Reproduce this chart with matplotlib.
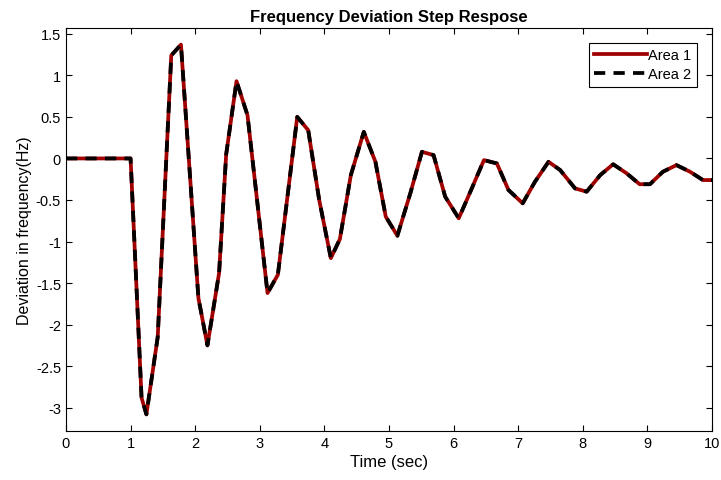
import matplotlib.pyplot as plt
from matplotlib.ticker import FuncFormatter

plt.rcParams['font.family'] = ['Liberation Sans', 'DejaVu Sans']

# time samples (sec) and frequency deviation (Hz)
t = [0, 0.25, 0.5, 0.75, 1.0, 1.17, 1.245, 1.42, 1.63, 1.78, 2.05, 2.19, 2.37,
     2.48, 2.64, 2.81, 3.12, 3.28, 3.43, 3.58, 3.75, 3.92, 4.10, 4.24, 4.41,
     4.61, 4.79, 4.95, 5.13, 5.33, 5.51, 5.69, 5.87, 6.08, 6.26, 6.47, 6.67,
     6.85, 7.07, 7.26, 7.47, 7.65, 7.88, 8.06, 8.27, 8.47, 8.68, 8.88, 9.04,
     9.24, 9.45, 9.66, 9.86, 10.0]
area1 = [0, 0, 0, 0, 0, -2.88, -3.08, -2.15, 1.24, 1.37, -1.68, -2.25, -1.38,
         0.05, 0.93, 0.52, -1.62, -1.40, -0.45, 0.50, 0.34, -0.50, -1.20, -0.97,
         -0.20, 0.32, -0.04, -0.70, -0.93, -0.42, 0.08, 0.04, -0.46, -0.72,
         -0.40, -0.02, -0.06, -0.38, -0.54, -0.28, -0.04, -0.14, -0.36, -0.40,
         -0.20, -0.07, -0.18, -0.31, -0.31, -0.16, -0.08, -0.16, -0.26, -0.26]
area2 = list(area1)  # both areas respond identically

fig = plt.figure(figsize=(7.21, 4.81), dpi=100)
ax = fig.add_axes([0.0915, 0.1019, 0.8960, 0.8378])

ax.plot(t, area1, color='#a00000', lw=2.7, label='Area 1')
l2, = ax.plot(t, area2, color='black', lw=2.7, ls='--', label='Area 2')
l2.set_dashes([3.0, 2.2])

ax.set_xlim(0, 10)
ax.set_ylim(-3.28, 1.57)
ax.set_xticks(range(0, 11))
ax.set_yticks([-3, -2.5, -2, -1.5, -1, -0.5, 0, 0.5, 1, 1.5])
ax.yaxis.set_major_formatter(FuncFormatter(lambda v, p: '%g' % v))
ax.tick_params(direction='in', top=True, right=True, length=4, labelsize=10.5, width=0.8)
for s in ax.spines.values():
    s.set_linewidth(0.8)

ax.set_title('Frequency Deviation Step Respose', fontsize=12, fontweight='bold', pad=5)
ax.set_xlabel('Time (sec)', fontsize=12, labelpad=3)
ax.set_ylabel('Deviation in frequency(Hz)', fontsize=11.5, labelpad=3)

leg = ax.legend(loc='upper right', fontsize=10.5, handlelength=3.6, fancybox=False,
                edgecolor='black', framealpha=1, borderpad=0.4, labelspacing=0.3,
                handletextpad=0.1, borderaxespad=1.0)
leg.get_frame().set_linewidth(0.8)

fig.savefig('out.png', dpi=100)
